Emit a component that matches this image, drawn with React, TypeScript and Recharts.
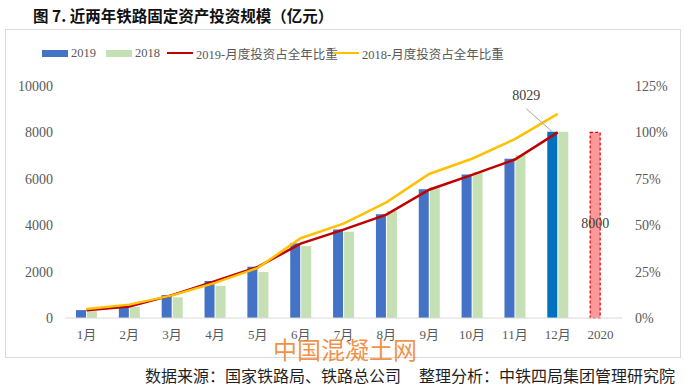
import React from 'react';
import { ComposedChart, Bar, Line, XAxis, YAxis, LabelList, Cell } from 'recharts';

const months = ['1月', '2月', '3月', '4月', '5月', '6月', '7月', '8月', '9月', '10月', '11月', '12月', '2020'];
const inv2019 = [340, 490, 990, 1595, 2210, 3220, 3820, 4470, 5550, 6190, 6860, 8029, null];
const inv2018 = [300, 480, 890, 1390, 1980, 3100, 3720, 4610, 5660, 6280, 7030, 8028, null];
const plan2020 = 8000;
const share2019 = [4.2, 6.2, 12.3, 19.9, 27.5, 40.1, 47.6, 55.7, 69.1, 77.1, 85.4, 100, null];
const share2018 = [4.8, 7.2, 12.2, 18.9, 27.0, 43.0, 50.8, 62.3, 77.6, 85.8, 96.4, 110, null];
const leftTicks = [0, 2000, 4000, 6000, 8000, 10000];
const rightTicks = [0, 25, 50, 75, 100, 125];

// 2020 plan sits in the 2019 slot, styled separately
const data = months.map((m, i) => ({
  month: m,
  v2019: i === months.length - 1 ? plan2020 : inv2019[i],
  v2018: inv2018[i],
  s2019: share2019[i],
  s2018: share2018[i],
}));

const serif = '"Liberation Serif", "Times New Roman", "Noto Sans CJK SC", serif';
const cjk = '"Noto Sans CJK SC", sans-serif';

const BarLabel = (props: any) => {
  const { x, y, width, height, index, value } = props;
  const cx = x + width / 2;
  if (index === 11) {
    return (
      <g>
        <line x1={cx - 26} y1={y - 23} x2={cx} y2={y} stroke="#a6a6a6" strokeWidth={1} />
        <text x={cx - 26} y={y - 35} textAnchor="middle" dominantBaseline="middle" fontSize={14} fontFamily={serif} fill="#404040">
          {value}
        </text>
      </g>
    );
  }
  if (index === 12) {
    return (
      <text x={cx} y={y + height / 2} textAnchor="middle" dominantBaseline="middle" fontSize={14} fontFamily={serif} fill="#404040">
        {value}
      </text>
    );
  }
  return null;
};

const legendItems = [
  { label: '2019', color: '#4472C4', kind: 'bar', left: 42 },
  { label: '2018', color: '#C5E0B4', kind: 'bar', left: 106 },
  { label: '2019-月度投资占全年比重', color: '#C00000', kind: 'line', left: 167 },
  { label: '2018-月度投资占全年比重', color: '#FFC000', kind: 'line', left: 333 },
];

export default function App() {
  return (
    <div style={{ position: 'absolute', left: 0, top: 0, width: 684, height: 388, background: '#fff', overflow: 'hidden' }}>
      <div style={{ position: 'absolute', left: 33, top: 4, fontFamily: cjk, fontWeight: 700, fontSize: 15.5, color: '#111', whiteSpace: 'nowrap' }}>
        图 7. 近两年铁路固定资产投资规模（亿元）
      </div>
      <div style={{ position: 'absolute', left: 5, top: 29, width: 674, height: 327, border: '1px solid #d9d9d9' }} />
      {legendItems.map((it) => (
        <div key={it.label} style={{ position: 'absolute', left: it.left, top: 45, height: 16, display: 'flex', alignItems: 'center', whiteSpace: 'nowrap' }}>
          <span style={{ display: 'inline-block', width: 26, height: it.kind === 'bar' ? 7 : 2.5, background: it.color, marginRight: 3 }} />
          <span style={{ fontFamily: serif, fontSize: 12.5, color: '#595959' }}>{it.label}</span>
        </div>
      ))}
      <div style={{ position: 'absolute', left: 0, top: 0 }}>
        <ComposedChart width={684} height={388} data={data} margin={{ top: 86, right: 12, bottom: 40, left: 15 }} barSize={10} barGap={1}>
          <XAxis
            dataKey="month"
            axisLine={{ stroke: '#d9d9d9' }}
            tickLine={false}
            tickSize={0}
            tickMargin={12}
            height={30}
            tick={{ fontSize: 13, fontFamily: serif, fill: '#595959' }}
            interval={0}
          />
          <YAxis
            yAxisId="left"
            domain={[0, 10000]}
            ticks={leftTicks}
            width={50}
            axisLine={false}
            tickLine={false}
            tickSize={0}
            tickMargin={12}
            tick={{ fontSize: 14, fontFamily: serif, fill: '#595959' }}
          />
          <YAxis
            yAxisId="right"
            orientation="right"
            domain={[0, 125]}
            ticks={rightTicks}
            width={50}
            axisLine={false}
            tickLine={false}
            tickSize={0}
            tickMargin={13}
            tickFormatter={(v: number) => `${v}%`}
            tick={{ fontSize: 14, fontFamily: serif, fill: '#595959' }}
          />
          <Bar yAxisId="left" dataKey="v2019" fill="#4472C4" isAnimationActive={false}>
            {data.map((d, i) => (
              <Cell
                key={i}
                fill={i === 12 ? '#FF9999' : i === 11 ? '#0070C0' : '#4472C4'}
                stroke={i === 12 ? '#E00000' : 'none'}
                strokeDasharray={i === 12 ? '3 2' : undefined}
                strokeWidth={i === 12 ? 1.2 : 0}
              />
            ))}
            <LabelList dataKey="v2019" content={BarLabel} />
          </Bar>
          <Bar yAxisId="left" dataKey="v2018" fill="#C5E0B4" isAnimationActive={false} />
          <Line yAxisId="right" dataKey="s2019" stroke="#C00000" strokeWidth={2.5} dot={false} type="linear" isAnimationActive={false} />
          <Line yAxisId="right" dataKey="s2018" stroke="#FFC000" strokeWidth={2.5} dot={false} type="linear" isAnimationActive={false} />
        </ComposedChart>
      </div>
      <div style={{ position: 'absolute', left: 273, top: 331, fontFamily: cjk, fontSize: 24, color: 'rgba(240,125,40,0.85)', whiteSpace: 'nowrap', letterSpacing: 0 }}>
        中国混凝土网
      </div>
      <div style={{ position: 'absolute', left: 145, top: 363, fontFamily: cjk, fontSize: 16, color: '#1f1f1f', whiteSpace: 'nowrap' }}>
        数据来源：国家铁路局、铁路总公司<span style={{ marginLeft: 18 }}>整理分析：中铁四局集团管理研究院</span>
      </div>
    </div>
  );
}
